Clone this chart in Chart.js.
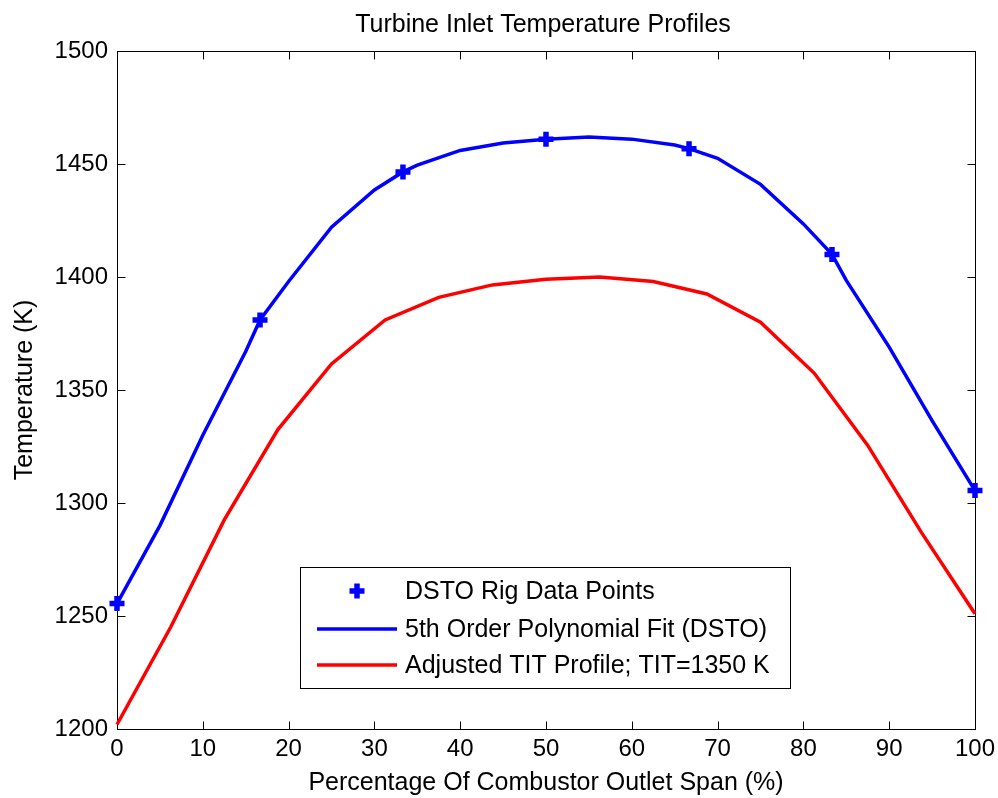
<!DOCTYPE html>
<html><head><meta charset="utf-8">
<script src="https://cdn.jsdelivr.net/npm/chart.js@4.4.1/dist/chart.umd.min.js"></script>
<style>html,body{margin:0;padding:0;background:#fff}#wrap{width:998px;height:798px}</style>
</head><body><div id="wrap"><canvas id="c" width="998" height="798"></canvas></div>
<script>
// Data
const rigX = [0, 16.67, 33.33, 50, 66.67, 83.33, 100];
const rigY = [1255.5, 1381, 1446.5, 1461, 1456.8, 1410, 1305.5];

const fitX = [0, 5, 10, 15, 16.67, 20, 25, 30, 33.33, 35, 40, 45, 50, 55, 60, 65, 66.67, 70, 75, 80, 83.33, 85, 90, 95, 100];
const fitY = [1255.5, 1290, 1330, 1367, 1381, 1398, 1422, 1438.5, 1446.5, 1449.5, 1456, 1459.3, 1461, 1462, 1461, 1458.4, 1456.8, 1452.5, 1441, 1423.5, 1410, 1398.5, 1369, 1336.5, 1305.5];

const adjX = [0, 6.25, 12.5, 18.75, 25, 31.25, 37.5, 43.75, 50, 56.25, 62.5, 68.75, 75, 81.25, 87.5, 93.75, 100];
const adjY = [1202, 1245, 1292.5, 1332.5, 1361.5, 1381, 1391, 1396.5, 1399, 1400, 1398, 1392.5, 1380, 1357.5, 1325.5, 1287, 1251];

const seriesLabels = ['DSTO Rig Data Points', '5th Order Polynomial Fit (DSTO)', 'Adjusted TIT Profile; TIT=1350 K'];
const titleText = 'Turbine Inlet Temperature Profiles';
const xTitle = 'Percentage Of Combustor Outlet Span (%)';
const yTitle = 'Temperature (K)';
const xTicks = [0, 10, 20, 30, 40, 50, 60, 70, 80, 90, 100];
const yTicks = [1200, 1250, 1300, 1350, 1400, 1450, 1500];

const FONT = '"Liberation Sans", Arial, Helvetica, sans-serif';
const pts = (xs, ys) => xs.map((x, i) => ({x: x, y: ys[i]}));

const boxPlugin = {
  id: 'matlabBox',
  beforeDatasetsDraw(chart) {
    const {ctx, chartArea: a, scales: {x, y}} = chart;
    ctx.save();
    ctx.strokeStyle = '#000';
    ctx.lineWidth = 1;
    const L = Math.round(a.left) + 0.5, R = Math.round(a.right) + 0.5;
    const T = Math.round(a.top) + 0.5, B = Math.round(a.bottom) + 0.5;
    ctx.strokeRect(L, T, R - L, B - T);
    const tl = 8;
    ctx.beginPath();
    xTicks.forEach(v => {
      const px = Math.round(x.getPixelForValue(v)) + 0.5;
      ctx.moveTo(px, B); ctx.lineTo(px, B - tl);
      ctx.moveTo(px, T); ctx.lineTo(px, T + tl);
    });
    yTicks.forEach(v => {
      const py = Math.round(y.getPixelForValue(v)) + 0.5;
      ctx.moveTo(L, py); ctx.lineTo(L + tl, py);
      ctx.moveTo(R, py); ctx.lineTo(R - tl, py);
    });
    ctx.stroke();
    // title centred over the plot area
    ctx.fillStyle = '#000';
    ctx.font = '25px ' + FONT;
    ctx.textAlign = 'center';
    ctx.textBaseline = 'alphabetic';
    ctx.fillText(titleText, (a.left + a.right) / 2 - 3, 32);
    ctx.restore();
  }
};

const legendPlugin = {
  id: 'insideLegend',
  afterDraw(chart) {
    const ctx = chart.ctx;
    const ds = chart.data.datasets;
    const bx = 300.5, by = 567.5, bw = 490, bh = 121;
    ctx.save();
    ctx.fillStyle = '#fff';
    ctx.fillRect(bx, by, bw, bh);
    ctx.strokeStyle = '#000';
    ctx.lineWidth = 1;
    ctx.strokeRect(bx, by, bw, bh);
    const rows = [591, 629, 665];
    ctx.font = '25px ' + FONT;
    ctx.textBaseline = 'middle';
    ctx.textAlign = 'left';
    rows.forEach((ry, i) => {
      const d = ds[i];
      if (d.showLine === false) {
        ctx.strokeStyle = d.borderColor;
        ctx.lineWidth = d.pointBorderWidth;
        ctx.beginPath();
        const r = d.pointRadius;
        ctx.moveTo(357 - r, ry); ctx.lineTo(357 + r, ry);
        ctx.moveTo(357, ry - r); ctx.lineTo(357, ry + r);
        ctx.stroke();
      } else {
        ctx.strokeStyle = d.borderColor;
        ctx.lineWidth = d.borderWidth;
        ctx.beginPath();
        ctx.moveTo(317, ry); ctx.lineTo(397, ry);
        ctx.stroke();
      }
      ctx.fillStyle = '#000';
      ctx.fillText(d.label, 405, ry + 1);
    });
    ctx.restore();
  }
};

new Chart(document.getElementById('c'), {
  type: 'scatter',
  data: {
    datasets: [
      {
        label: seriesLabels[0], data: pts(rigX, rigY), showLine: false,
        pointStyle: 'cross', pointRadius: 7.5, pointBorderWidth: 5.5,
        borderColor: '#0000ff', backgroundColor: '#0000ff', clip: false, order: 0
      },
      {
        label: seriesLabels[1], data: pts(fitX, fitY), showLine: true,
        borderColor: '#0000ff', borderWidth: 3.5, pointRadius: 0, tension: 0, clip: false, order: 1
      },
      {
        label: seriesLabels[2], data: pts(adjX, adjY), showLine: true,
        borderColor: '#ff0000', borderWidth: 3.5, pointRadius: 0, tension: 0, clip: false, order: 2
      }
    ]
  },
  options: {
    responsive: false,
    animation: false,
    devicePixelRatio: 1,
    layout: {padding: {top: 51, right: 23, bottom: 0, left: 0}},
    plugins: {
      legend: {display: false},
      tooltip: {enabled: false},
      title: {display: false}
    },
    scales: {
      x: {
        type: 'linear', min: 0, max: 100,
        afterBuildTicks: s => { s.ticks = xTicks.map(v => ({value: v})); },
        ticks: {color: '#000', font: {family: FONT, size: 24}, padding: 6, maxRotation: 0, autoSkip: false,
                callback: v => String(v)},
        grid: {display: false, drawTicks: false},
        border: {display: false},
        title: {display: true, text: xTitle, color: '#000', font: {family: FONT, size: 25, lineHeight: 1.2}, padding: {top: 0, bottom: 0}},
        afterFit: s => { s.height = 69; s.paddingLeft = 0; s.paddingRight = 0; }
      },
      y: {
        type: 'linear', min: 1200, max: 1500,
        afterBuildTicks: s => { s.ticks = yTicks.map(v => ({value: v})); },
        ticks: {color: '#000', font: {family: FONT, size: 24}, padding: 9, autoSkip: false,
                callback: v => String(v)},
        grid: {display: false, drawTicks: false},
        border: {display: false},
        title: {display: true, text: yTitle, color: '#000', font: {family: FONT, size: 25, lineHeight: 1.2}, padding: {top: 10, bottom: 0}},
        afterFit: s => { s.width = 117; s.paddingTop = 0; s.paddingBottom = 0; }
      }
    }
  },
  plugins: [boxPlugin, legendPlugin]
});
</script>
</body></html>
